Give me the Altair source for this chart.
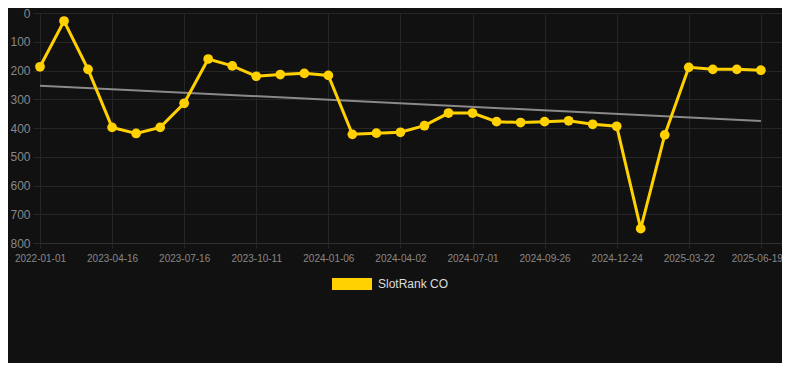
import altair as alt
import pandas as pd

dates = ["2022-01-01", "2023-02-15", "2023-03-17", "2023-04-16", "2023-05-16", "2023-06-15",
         "2023-07-16", "2023-08-14", "2023-09-12", "2023-10-11", "2023-11-09", "2023-12-08",
         "2024-01-06", "2024-02-04", "2024-03-04", "2024-04-02", "2024-05-02", "2024-06-01",
         "2024-07-01", "2024-07-30", "2024-08-28", "2024-09-26", "2024-10-25", "2024-11-24",
         "2024-12-24", "2025-01-22", "2025-02-20", "2025-03-22", "2025-04-21", "2025-05-20",
         "2025-06-19"]
ranks = [187, 28, 196, 398, 419, 398, 314, 160, 184, 220, 214, 210, 217, 422, 418, 415,
         392, 348, 348, 378, 381, 378, 375, 387, 394, 750, 424, 189, 196, 196, 199]
series_name = "SlotRank CO"
tick_idx = list(range(0, 31, 3))
y_ticks = list(range(0, 801, 100))

df = pd.DataFrame({"idx": list(range(len(dates))), "date": dates, "rank": ranks,
                   "series": [series_name] * len(dates)})

GOLD = "#FFD100"
BG = "#111111"
GRID = "#262626"
label_expr = "[" + ",".join("'%s'" % d for d in dates) + "][datum.value]"
last_idx = len(dates) - 1

x_enc = alt.X("idx:Q", scale=alt.Scale(domain=[0, 30.88], nice=False, zero=False),
              axis=alt.Axis(values=tick_idx, labelExpr=label_expr, title=None,
                            labelFontSize=10, labelColor="#888888", labelPadding=5,
                            labelOverlap=False, labelFlush=False,
                            labelOffset={"expr": "datum.value == %d ? -4 : 0" % last_idx},
                            tickSize=5, tickColor=GRID, gridColor=GRID,
                            domainColor="#2e2e2e", labelFont="Liberation Sans"))
y_enc = alt.Y("rank:Q", scale=alt.Scale(domain=[0, 800], reverse=True, nice=False),
              axis=alt.Axis(values=y_ticks, title=None, labelFontSize=12,
                            labelColor="#888888", labelPadding=3, tickSize=7,
                            tickColor=GRID, gridColor=GRID, domain=False,
                            labelFont="Liberation Sans"))

base = alt.Chart(df)

trend = base.transform_regression("idx", "rank").mark_line(
    color="#8a8a8a", strokeWidth=2).encode(x=x_enc, y=y_enc)

line = base.mark_line(color=GOLD, strokeWidth=3).encode(x=x_enc, y=y_enc)

points = base.mark_point(filled=True, size=95, opacity=1).encode(
    x=x_enc, y=y_enc,
    color=alt.Color("series:N", scale=alt.Scale(range=[GOLD]),
                    legend=alt.Legend(title=None, orient="none", legendX=292, legendY=251,
                                      symbolType="M-1,-0.3L1,-0.3L1,0.3L-1,0.3Z",
                                      symbolSize=1600, symbolStrokeWidth=0,
                                      labelFontSize=12, labelColor="#dddddd",
                                      labelFont="Liberation Sans", labelOffset=6,
                                      symbolOpacity=1)))

chart = alt.layer(trend, line, points).properties(
    width=742, height=230,
    autosize=alt.AutoSizeParams(type="none"),
    padding={"left": 32, "top": 5, "right": 0, "bottom": 120},
    background=BG,
).configure_view(stroke=None)

chart.save("out.html", embed_options={"renderer": "svg", "actions": False})
